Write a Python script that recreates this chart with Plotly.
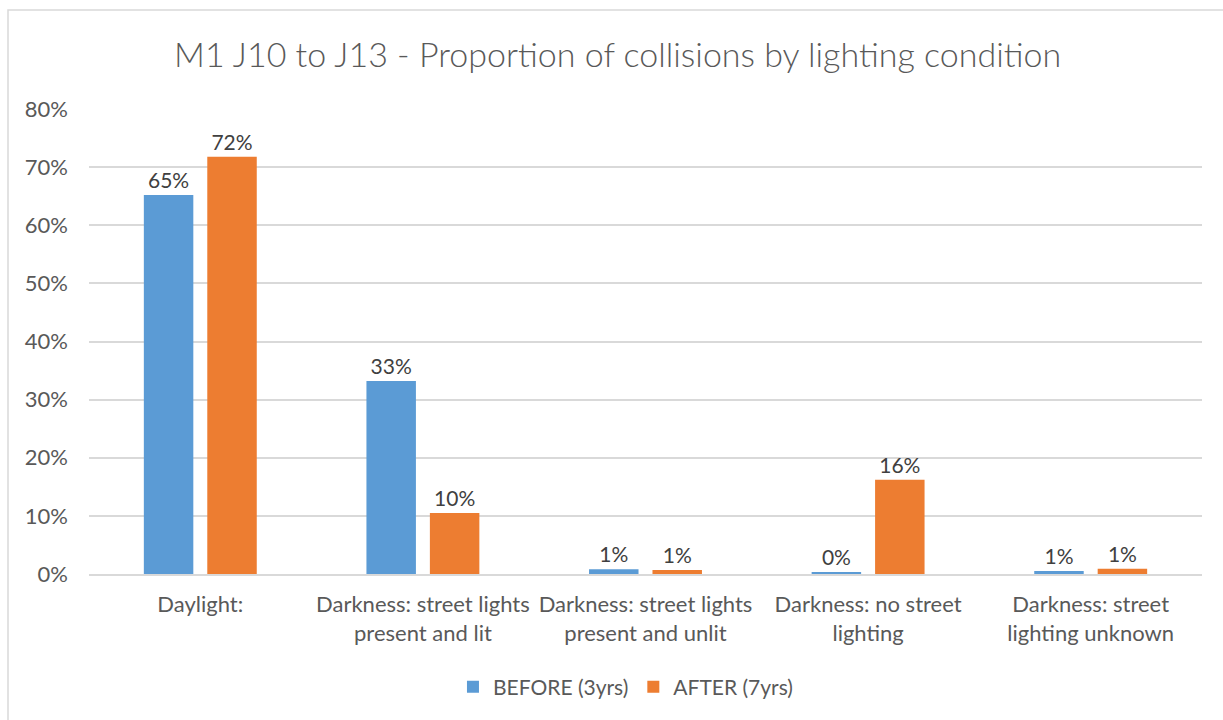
import plotly.graph_objects as go

categories = [
    "Daylight:",
    "Darkness: street lights<br>present and lit",
    "Darkness: street lights<br>present and unlit",
    "Darkness: no street<br>lighting",
    "Darkness: street<br>lighting unknown",
]
before_vals = [0.652, 0.332, 0.008, 0.002, 0.005]
after_vals = [0.718, 0.105, 0.007, 0.162, 0.009]
before_labels = ["65%", "33%", "1%", "0%", "1%"]
after_labels = ["72%", "10%", "1%", "16%", "1%"]
y_ticks = [0, 0.1, 0.2, 0.3, 0.4, 0.5, 0.6, 0.7, 0.8]
y_tick_text = ["0%", "10%", "20%", "30%", "40%", "50%", "60%", "70%", "80%"]

FONT = "Lato, 'Open Sans', sans-serif"
TXT = "#595959"
FS = 22

fig = go.Figure()
fig.add_trace(go.Bar(
    x=categories, y=before_vals, name="BEFORE (3yrs)",
    marker=dict(color="#5b9bd5", line=dict(width=0)),
    text=before_labels, textposition="outside", constraintext="none",
    textfont=dict(size=FS - 1, color="#404040", family=FONT),
    cliponaxis=False,
))
fig.add_trace(go.Bar(
    x=categories, y=after_vals, name="AFTER (7yrs)",
    marker=dict(color="#ed7d31", line=dict(width=0)),
    text=after_labels, textposition="outside", constraintext="none",
    textfont=dict(size=FS - 1, color="#404040", family=FONT),
    cliponaxis=False,
))

fig.update_layout(
    width=1223, height=720,
    paper_bgcolor="white", plot_bgcolor="white",
    margin=dict(l=89, r=21, t=109, b=146, autoexpand=False),
    title=dict(
        text="M1 J10 to J13 - Proportion of collisions by lighting condition",
        x=0.505, xanchor="center", y=0.924, yanchor="middle",
        font=dict(size=34, color=TXT, family=FONT, weight=300),
    ),
    barmode="group", bargap=0.43, bargroupgap=0.22,
    showlegend=True,
    legend=dict(
        orientation="h", x=0.482, xanchor="center",
        y=-0.243, yanchor="middle",
        font=dict(size=FS - 1, color=TXT, family=FONT),
        itemwidth=30,
    ),
    xaxis=dict(
        showgrid=False, showline=True, linecolor="#d9d9d9", linewidth=1.5,
        ticks="", tickangle=0, automargin=False, ticklabelstandoff=10,
        tickfont=dict(size=FS, color=TXT, family=FONT),
    ),
    yaxis=dict(
        range=[0, 0.8], tickvals=y_ticks, ticktext=y_tick_text,
        showgrid=True, gridcolor="#d9d9d9", gridwidth=1.5,
        zeroline=False, showline=False, ticks="", automargin=False,
        tickfont=dict(size=FS, color=TXT, family=FONT),
        ticklabelstandoff=20,
    ),
    shapes=[dict(
        type="rect", xref="paper", yref="paper",
        x0=(8 - 89) / 1113, x1=(1240 - 89) / 1113,
        y0=(720 - 146 - 740) / 465, y1=(720 - 146 - 10) / 465,
        line=dict(color="#d9d9d9", width=1.5), fillcolor="rgba(0,0,0,0)",
        layer="below",
    )],
)

fig.write_html("out.html")
